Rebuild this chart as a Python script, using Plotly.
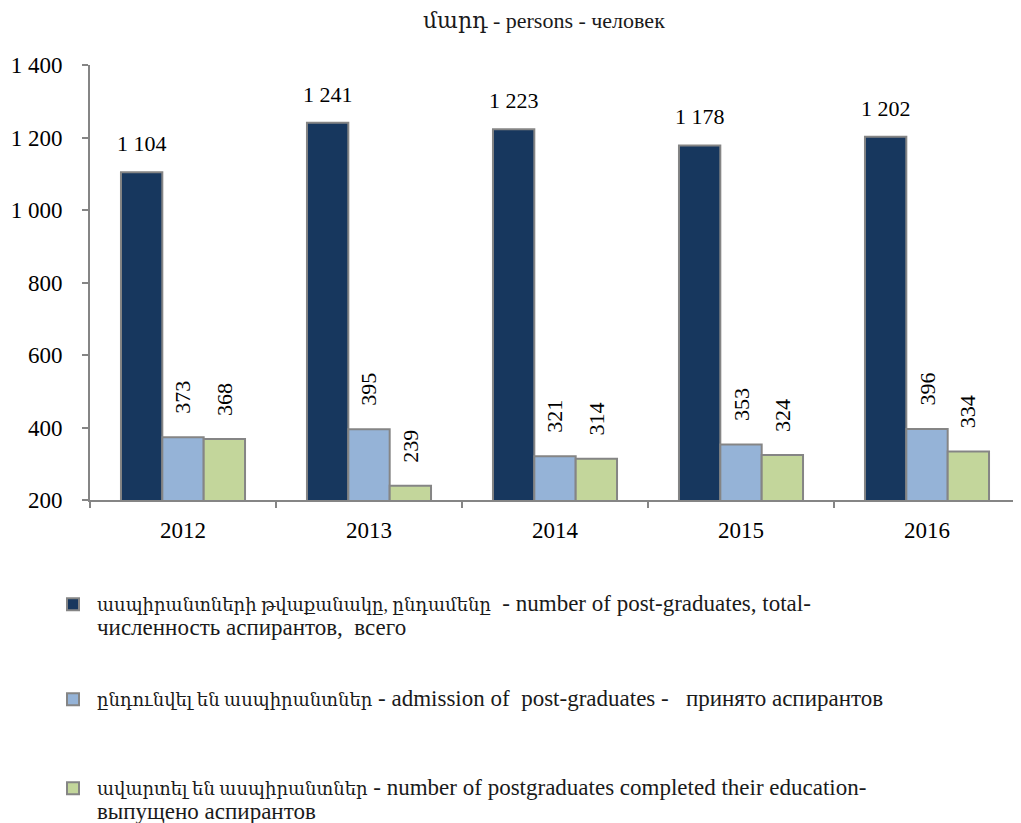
import plotly.graph_objects as go

years = ["2012", "2013", "2014", "2015", "2016"]
total = [1104, 1241, 1223, 1178, 1202]
admitted = [373, 395, 321, 353, 396]
graduated = [368, 239, 314, 324, 334]

arm_names = ["ասպիրանտների թվաքանակը, ընդամենը",
             "ընդունվել են ասպիրանտներ",
             "ավարտել են ասպիրանտներ"]
rest_names = ["  - number of post-graduates, total-<br>численность аспирантов,  всего",
              " - admission of  post-graduates -   принято аспирантов",
              " - number of postgraduates completed their education-<br>выпущено аспирантов"]
colors = ["#17375E", "#95B3D7", "#C3D69B"]
series = [total, admitted, graduated]

FONT = "Liberation Serif, Times New Roman, DejaVu Serif, serif"
EDGE = "#858585"

# the page body has an 8px default margin; the figure is sized to fit the window
W, H = 1013, 815


def legend_label(arm, rest):
    parts = rest.split("<br>")
    out = f'<span style="font-size:18px">{arm}</span><span style="font-size:23px">{parts[0]}</span>'
    for p in parts[1:]:
        out += f'<br><span style="font-size:23px">{p}</span>'
    return out


fig = go.Figure()
legend_ids = ["legend", "legend2", "legend3"]
for i, (vals, col) in enumerate(zip(series, colors)):
    fig.add_trace(go.Bar(
        x=years, y=vals, name=legend_label(arm_names[i], rest_names[i]),
        marker=dict(color=col, line=dict(color=EDGE, width=2)),
        legend=legend_ids[i], showlegend=True,
    ))


def fmt(v):
    return f"{v:,}".replace(",", " ")


# value labels
bar_px = 930 / 5 * (1 - 0.333) / 3
annotations = []
for i, vals in enumerate(series):
    for j, v in enumerate(vals):
        if i == 0:
            annotations.append(dict(x=j, y=v, xref="x", yref="y", text=fmt(v), showarrow=False,
                                    xshift=(i - 1) * bar_px, yshift=14, yanchor="bottom",
                                    font=dict(family=FONT, size=22, color="#000")))
        else:
            annotations.append(dict(x=j, y=v, xref="x", yref="y", text=fmt(v), showarrow=False,
                                    textangle=-90,
                                    xshift=(i - 1) * bar_px, yshift=21, yanchor="bottom",
                                    font=dict(family=FONT, size=22, color="#000")))

leg_common = dict(xref="container", yref="container", x=41 / W, xanchor="left",
                  yanchor="top", valign="top", itemwidth=38,
                  font=dict(family=FONT, size=18, color="#1a1a1a"),
                  bgcolor="rgba(0,0,0,0)", itemclick=False, orientation="v")

fig.update_layout(
    width=W, height=H,
    margin=dict(l=82, r=1, t=57, b=323, autoexpand=False),
    paper_bgcolor="white", plot_bgcolor="white",
    barmode="group", bargap=0.333, bargroupgap=0,
    separators=". ",
    showlegend=True,
    title=dict(text="մարդ - persons - человек", x=0.529, xanchor="center",
               y=1 - 12 / H, yanchor="middle",
               font=dict(family=FONT, size=22, color="#1a1a1a")),
    font=dict(family=FONT, size=22, color="#000"),
    xaxis=dict(type="category", categoryorder="array", categoryarray=years,
               range=[-0.5, 4.5], autorange=False,
               showline=True, linecolor=EDGE, linewidth=2, ticks="outside",
               tickson="boundaries", ticklen=6, tickcolor=EDGE, tickwidth=2,
               showgrid=False, tickangle=0, ticklabelstandoff=8,
               tickfont=dict(family=FONT, size=23, color="#000")),
    yaxis=dict(range=[200, 1400], autorange=False, dtick=200, tick0=200, tickformat=",d",
               showline=True, linecolor=EDGE, linewidth=2, ticks="outside",
               ticklen=6, tickcolor=EDGE, tickwidth=2, showgrid=False, zeroline=False,
               ticklabelstandoff=15,
               tickfont=dict(family=FONT, size=23, color="#000")),
    legend=dict(y=1 - 578 / H, **leg_common),
    legend2=dict(y=1 - 673 / H, **leg_common),
    legend3=dict(y=1 - 762 / H, **leg_common),
    annotations=annotations,
)

fig.write_html("out.html")
